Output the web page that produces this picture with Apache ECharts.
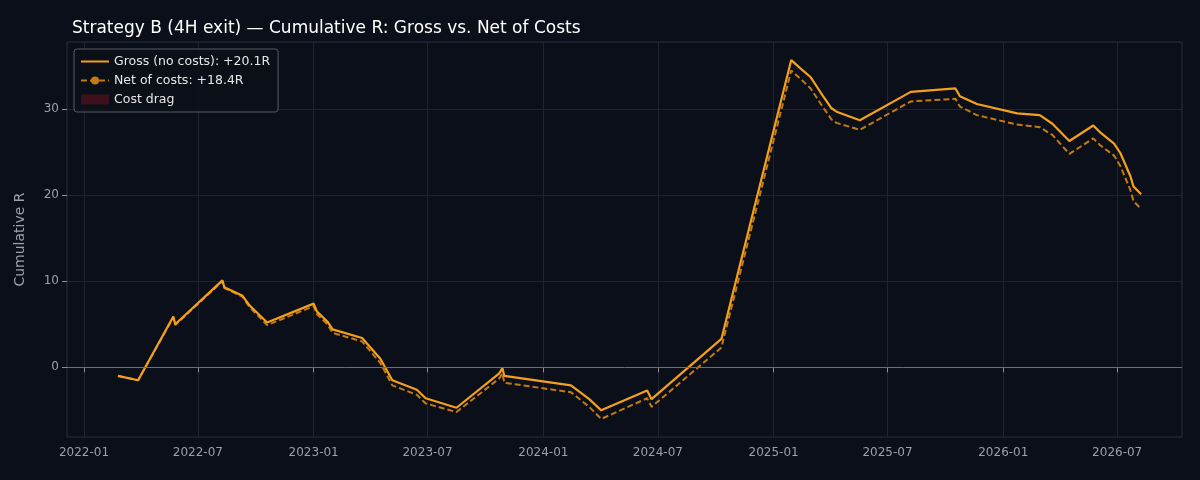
<!DOCTYPE html>
<html><head><meta charset="utf-8">
<script src="https://cdn.jsdelivr.net/npm/echarts@6/dist/echarts.min.js"></script>
<style>html,body{margin:0;background:#0b0f19}#c{width:1200px;height:480px}</style>
</head><body><div id="c"></div>
<script>
const dates = ["2022-02-24","2022-03-28","2022-05-23","2022-05-26","2022-08-09","2022-08-12","2022-09-10","2022-09-21","2022-10-19","2023-01-01","2023-01-06","2023-01-23","2023-01-31","2023-03-19","2023-04-17","2023-05-06","2023-06-14","2023-06-28","2023-08-16","2023-10-23","2023-10-28","2023-10-31","2024-02-14","2024-03-14","2024-04-02","2024-06-14","2024-06-21","2024-10-10","2025-01-29","2025-02-13","2025-03-01","2025-03-17","2025-04-03","2025-04-11","2025-05-18","2025-08-07","2025-10-17","2025-10-24","2025-11-20","2026-01-23","2026-02-28","2026-03-20","2026-04-16","2026-05-24","2026-06-04","2026-06-26","2026-07-06","2026-07-22","2026-07-27","2026-08-08"];
const gross = [-1.0,-1.5,5.9,5.0,10.1,9.3,8.3,7.2,5.2,7.4,6.5,5.3,4.4,3.4,1.0,-1.5,-2.6,-3.6,-4.7,-0.7,-0.1,-1.0,-2.1,-3.7,-5.0,-2.7,-3.7,3.3,35.7,34.7,33.7,31.9,30.1,29.7,28.7,32.0,32.4,31.5,30.6,29.5,29.3,28.3,26.3,28.1,27.3,26.0,24.9,22.2,21.0,20.1];
const net = [-1.0,-1.5,5.8,4.9,10.0,9.2,8.2,7.0,4.9,7.1,6.2,5.0,4.0,3.0,0.5,-2.1,-3.2,-4.2,-5.2,-1.3,-0.7,-1.8,-2.9,-4.6,-6.0,-3.6,-4.6,2.3,34.5,33.5,32.4,30.6,28.8,28.4,27.6,30.9,31.2,30.3,29.3,28.2,27.9,27.0,24.8,26.6,25.8,24.6,23.4,20.6,19.3,18.4];
const yTicks = [0,10,20,30];
const xTickLabels = ["2022-01","2022-07","2023-01","2023-07","2024-01","2024-07","2025-01","2025-07","2026-01","2026-07"];
const t = s => new Date(s+"-01T00:00:00Z").getTime();
const ts = d => new Date(d+"T00:00:00Z").getTime();
const xTicks = xTickLabels.map(t);
const ch = echarts.init(document.getElementById('c'));
const gridC = '#1e2432';
ch.setOption({
  backgroundColor:'#0b0f19',
  animation:false,
  title:{text:'Strategy B (4H exit) — Cumulative R: Gross vs. Net of Costs',left:67,top:15,textStyle:{color:'#ffffff',fontSize:17,fontWeight:'normal',fontFamily:'DejaVu Sans'}},
  grid:{left:67,right:18,top:42,bottom:43,show:true,borderColor:'#2a3040',borderWidth:1},
  legend:{left:74,top:49,orient:'vertical',itemGap:6,padding:[6,8,6,6],backgroundColor:'rgba(11,15,25,0.85)',borderColor:'#555a66',borderWidth:1,borderRadius:3,
    textStyle:{color:'#e6e6e6',fontSize:12.5,fontFamily:'DejaVu Sans'},itemWidth:28,itemHeight:10,
    data:[{name:'Gross (no costs): +20.1R',icon:'path://M0,4L28,4L28,6L0,6Z'},{name:'Net of costs: +18.4R'},{name:'Cost drag',icon:'rect'}]},
  xAxis:{type:'value',min:ts('2021-12-05'),max:ts('2026-10-12'),
    axisLine:{show:false},axisTick:{show:true,length:5,lineStyle:{color:'#8a909c'},customValues:xTicks},
    axisLabel:{color:'#9aa0ac',fontSize:12,fontFamily:'DejaVu Sans',margin:10,customValues:xTicks,
      formatter:v=>{const d=new Date(v);return d.getUTCFullYear()+'-'+String(d.getUTCMonth()+1).padStart(2,'0');}},
    splitLine:{show:true,lineStyle:{color:gridC}}},
  yAxis:{type:'value',min:-8.1,max:37.8,name:'Cumulative R',nameLocation:'middle',nameGap:40,nameTextStyle:{color:'#9aa0ac',fontSize:14,fontFamily:'DejaVu Sans'},
    axisLine:{show:false},axisTick:{show:true,length:5,lineStyle:{color:'#8a909c'},customValues:yTicks},
    axisLabel:{color:'#9aa0ac',fontSize:12,fontFamily:'DejaVu Sans',customValues:yTicks},
    splitLine:{show:true,lineStyle:{color:gridC}}},
  series:[
    {name:'base',type:'line',stack:'d',data:dates.map((d,i)=>[ts(d),net[i]]),symbol:'none',lineStyle:{opacity:0},silent:true},
    {name:'Cost drag',type:'line',stack:'d',data:dates.map((d,i)=>[ts(d),+(gross[i]-net[i]).toFixed(2)]),symbol:'none',lineStyle:{opacity:0},
      itemStyle:{color:'rgba(120,20,30,0.45)'},areaStyle:{color:'rgba(120,20,30,0.45)'}},
    {name:'Net of costs: +18.4R',type:'line',data:dates.map((d,i)=>[ts(d),net[i]]),symbol:'none',itemStyle:{color:'#c47a12'},lineStyle:{color:'#c47a12',width:2,type:[6,3]},
      markLine:{silent:true,symbol:'none',label:{show:false},lineStyle:{color:'#6b6f78',width:1,type:'solid'},data:[{yAxis:0}]}},
    {name:'Gross (no costs): +20.1R',type:'line',data:dates.map((d,i)=>[ts(d),gross[i]]),symbol:'none',itemStyle:{color:'#f5a01a'},lineStyle:{color:'#f5a01a',width:2.2}}
  ]
});
</script></body></html>
